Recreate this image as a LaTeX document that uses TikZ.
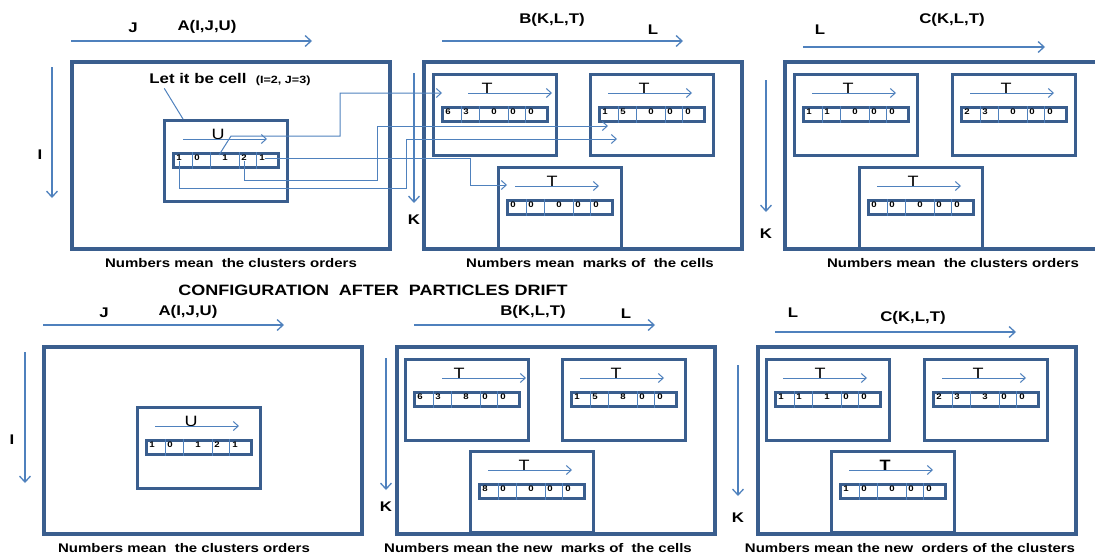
\documentclass[tikz,border=0pt]{standalone}
\usepackage{fontspec}
\setmainfont{Liberation Sans}[FakeStretch=1.2]
\usetikzlibrary{arrows.meta,calc}

\definecolor{framec}{RGB}{58,94,142}
\definecolor{arrowc}{RGB}{79,129,189}

\tikzset{
  frame/.style = {draw = framec, line width = 3.5pt, minimum width = 318pt, minimum height = 187pt, inner sep = 0pt, anchor = north west},
  slotbox/.style = {draw = framec, line width = 3pt, fill = white, minimum width = 123pt, minimum height = 81pt, inner sep = 0pt, anchor = north west},
  tapebox/.style = {draw = framec, line width = 2.8pt, fill = white, minimum width = 105pt, minimum height = 14pt, inner sep = 0pt, anchor = north west},
  axis/.style = {draw = arrowc, line width = 2pt, -{Straight Barb[length = 6pt, width = 11pt, line width = 1.3pt]}},
  dir/.style = {draw = arrowc, line width = 1pt, -{Straight Barb[length = 5pt, width = 9pt]}},
  link/.style = {draw = arrowc, line width = 1pt, -{Straight Barb[length = 5pt, width = 9pt]}},
  ptr/.style = {draw = arrowc, line width = 1pt},
  divider/.style = {draw = arrowc, line width = 0.7pt},
  lab/.style = {font = \fontsize{14}{16}\selectfont\bfseries, inner sep = 0pt},
  tag/.style = {font = \fontsize{15}{17}\selectfont, inner sep = 0pt},
  digit/.style = {font = \fontsize{8}{9}\selectfont\bfseries, inner sep = 0pt},
  legend/.style = {font = \fontsize{12.5}{14}\selectfont\bfseries, inner sep = 0pt},
  headline/.style = {font = \fontsize{15}{17}\selectfont\bfseries, inner sep = 0pt}
}

% one cell of a grid: box, index label and its arrow
\newcommand\cellbox[4]{%
  \node[slotbox] (#1) at #2 {};
  \node[tag] (#1-t) at ([shift = {(55,15)}]#1.north west) {#3};
  \draw[dir] ([shift = {(#4,20)}]#1.north west) -- ++(84,0);
}

% the five-slot vector kept in a cell
\newcommand\tapebar[7]{%
  \node[tapebox] (#1) at ([shift = {(9,33)}]#2.north west) {};
  \foreach \d in {20,38,67,84}
    \draw[divider] ([xshift = \d pt]#1.north west) -- ([xshift = \d pt]#1.south west);
  \node[digit] (#1-1) at ([shift = {(7,6)}]#1.north west) {#3};
  \node[digit] (#1-2) at ([shift = {(25,6)}]#1.north west) {#4};
  \node[digit] (#1-3) at ([shift = {(53,6)}]#1.north west) {#5};
  \node[digit] (#1-4) at ([shift = {(72,6)}]#1.north west) {#6};
  \node[digit] (#1-5) at ([shift = {(90,6)}]#1.north west) {#7};
}

\begin{document}
\begin{tikzpicture}[x = 1pt, y = -1pt]
\useasboundingbox (0,0) rectangle (1095,557);

% ---- A(I,J,U) before the drift ----
\node[frame] (A) at (70,60) {};
\node[lab] (Aj) at (133,28) {J};
\node[lab] (An) at (207,27) {A(I,J,U)};
\node[lab] (Ai) at (40,155) {I};
\draw[axis] (71,41) -- (312,41);
\draw[axis] (52,67) -- (52,198);
\cellbox{ca}{(163,119)}{U}{20}
\tapebar{u}{ca}{1}{0}{1}{2}{1}
\node[lab] (cellnote) at (230,80) {Let it be cell\ \ {\fontsize{10.5}{12}\selectfont(I=2, J=3)}};
\draw[ptr] ([xshift = 15pt, yshift = -2pt]cellnote.south west) -- ([xshift = 20pt]ca.north west);
\node[legend] (capA) at (231,263) {Numbers mean\ \ the clusters orders};

% ---- B(K,L,T) ----
\node[frame] (B) at (422,60) {};
\node[lab] (Bn) at (552,20) {B(K,L,T)};
\node[lab] (Bl) at (653,30) {L};
\node[lab] (Bk) at (414,220) {K};
\draw[axis] (442,41) -- (683,41);
\cellbox{b1}{(432,73)}{T}{36}
\tapebar{tb1}{b1}{6}{3}{0}{0}{0}
\cellbox{b2}{(589,73)}{T}{19}
\tapebar{tb2}{b2}{1}{5}{0}{0}{0}
\cellbox{b3}{(497,166)}{T}{18}
\tapebar{tb3}{b3}{0}{0}{0}{0}{0}
\node[legend] (capB) at (590,263) {Numbers mean\ \ marks of\ \ the cells};

% ---- C(K,L,T) ----
\node[frame] (C) at (783,60) {};
\node[lab] (Cl) at (820,30) {L};
\node[lab] (Cn) at (952,20) {C(K,L,T)};
\node[lab] (Ck) at (766,234) {K};
\draw[axis] (803,47) -- (1045,47);
\draw[axis] (766,80) -- (766,212);
\cellbox{c1}{(793,73)}{T}{19}
\tapebar{tc1}{c1}{1}{1}{0}{0}{0}
\cellbox{c2}{(951,73)}{T}{19}
\tapebar{tc2}{c2}{2}{3}{0}{0}{0}
\cellbox{c3}{(858,166)}{T}{19}
\tapebar{tc3}{c3}{0}{0}{0}{0}{0}
\node[legend] (capC) at (953,263) {Numbers mean\ \ the clusters orders};

% particles of cell (2,3) sent to B
\coordinate (in1) at (442,93);
\coordinate (in2) at (608,126);
\coordinate (in3) at (507,185);
\coordinate (in4) at (617,139);
\draw[link] ([xshift = -6pt]u-3.north) -- ++(12,-19) -| (340,93) -- (in1);
\draw[link] (u-4.south) |- (377,180) |- (in2);
\draw[link] (u-5.east) -| (470,185) -- (in3);
\draw[link] (u-1.south) |- (406,188) |- (in4);
\draw[axis] (414,73) -- (414,203);

\node[headline] (drift) at (373,290) {CONFIGURATION\ \ AFTER\ \ PARTICLES DRIFT};

% ---- after the drift ----
\node[frame] (A2) at (42,345) {};
\node[lab] (A2j) at (104,313) {J};
\node[lab] (A2n) at (188,312) {A(I,J,U)};
\node[lab] (A2i) at (12,440) {I};
\draw[axis] (43,325) -- (284,325);
\draw[axis] (25,352) -- (25,483);
\cellbox{ca2}{(136,406)}{U}{19}
\tapebar{u2}{ca2}{1}{0}{1}{2}{1}
\node[legend] (capA2) at (184,548) {Numbers mean\ \ the clusters orders};

\node[frame] (B2) at (395,345) {};
\node[lab] (B2n) at (533,312) {B(K,L,T)};
\node[lab] (B2l) at (626,314) {L};
\node[lab] (B2k) at (386,507) {K};
\draw[axis] (414,325) -- (655,325);
\draw[axis] (386,358) -- (386,490);
\cellbox{b21}{(404,358)}{T}{38}
\tapebar{tb21}{b21}{6}{3}{8}{0}{0}
\cellbox{b22}{(561,358)}{T}{19}
\tapebar{tb22}{b22}{1}{5}{8}{0}{0}
\cellbox{b23}{(469,450)}{T}{19}
\tapebar{tb23}{b23}{8}{0}{0}{0}{0}
\node[legend] (capB2) at (538,548) {Numbers mean the new\ \ marks of\ \ the cells};

\node[frame] (C2) at (756,345) {};
\node[lab] (C2l) at (793,313) {L};
\node[lab] (C2n) at (913,318) {C(K,L,T)};
\node[lab] (C2k) at (738,518) {K};
\draw[axis] (775,332) -- (1016,332);
\draw[axis] (738,365) -- (738,496);
\cellbox{c21}{(765,358)}{T}{18}
\tapebar{tc21}{c21}{1}{1}{1}{0}{0}
\cellbox{c22}{(923,358)}{T}{19}
\tapebar{tc22}{c22}{2}{3}{3}{0}{0}
\cellbox{c23}{(830,450)}{\bfseries T}{19}
\tapebar{tc23}{c23}{1}{0}{0}{0}{0}
\node[legend] (capC2) at (910,548) {Numbers mean the new\ \ orders of the clusters};
\end{tikzpicture}
\end{document}
